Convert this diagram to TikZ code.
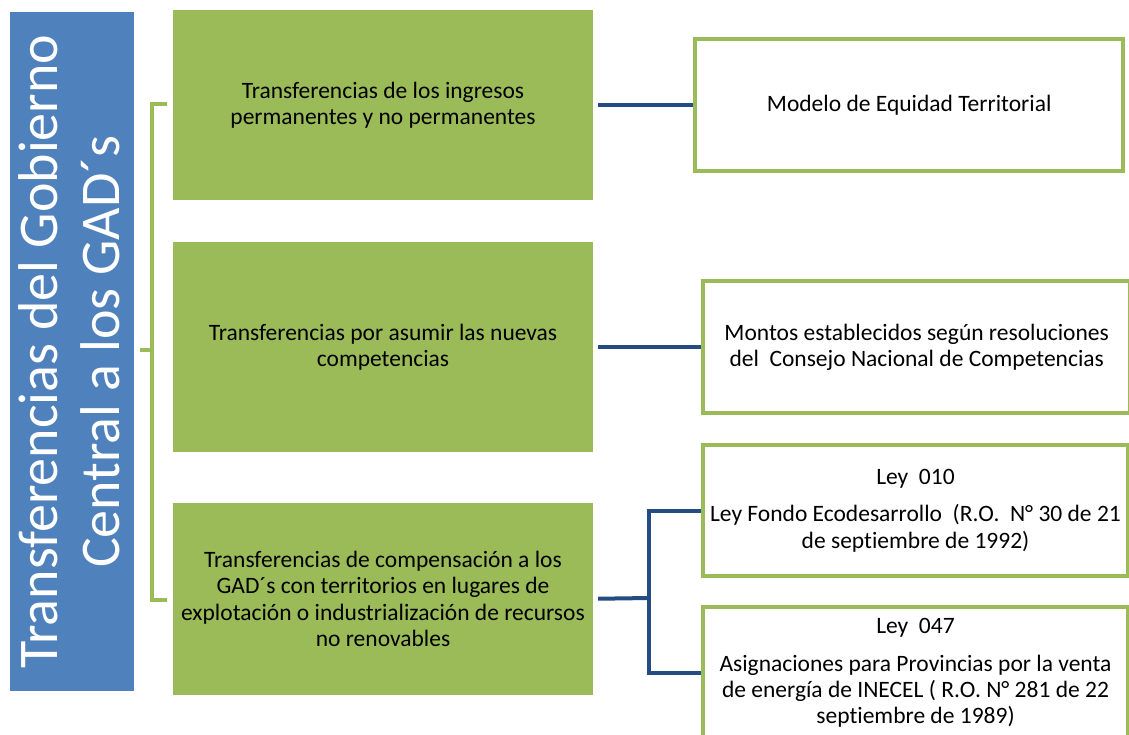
\documentclass[tikz,border=0pt]{standalone}
\usepackage{fontspec}
\setmainfont{Carlito}[Ligatures=NoCommon]
\usetikzlibrary{positioning}
\definecolor{grn}{RGB}{155,187,89}
\definecolor{blu}{RGB}{79,129,189}
\definecolor{dblu}{RGB}{36,76,128}

\begin{document}
\begin{tikzpicture}[x=1pt, y=-1pt,
                title/.style={rectangle, fill=blu, minimum width=124pt, minimum height=679pt, inner sep=0pt},
                titletext/.style={rotate=90, align=center, text=white, inner sep=0pt, font=\fontsize{56}{62}\selectfont},
                grnbox/.style={rectangle, fill=grn, minimum width=420pt, inner sep=0pt, align=center, font=\fontsize{23.5}{26.3}\selectfont},
                outbox/.style={rectangle, draw=grn, line width=4pt, fill=white, minimum width=425pt, minimum height=132pt, inner sep=0pt, align=center, font=\fontsize{23.5}{26.3}\selectfont},
                link/.style={line width=4pt, dblu},
                brace/.style={line width=4pt, grn}
            ]
            \useasboundingbox (0,0) rectangle (1129,734);
            \node[title] (gob) at (72,351.5) {};
            \node[titletext] (gobtext) at ([xshift=-3pt]gob.center) {Transferencias del Gobierno\\Central a los GAD´s};

            \node[grnbox, minimum height=190pt] (perm) at (383,105) {Transferencias de los ingresos\\permanentes y no permanentes};
            \node[grnbox, minimum height=210pt, below=42pt of perm] (comp) {Transferencias por asumir las nuevas\\competencias};
            \node[grnbox, minimum height=192pt, below=50pt of comp] (recur) {Transferencias de compensación a los\\GAD´s con territorios en lugares de\\explotación o industrialización de recursos\\no renovables};

            \node[outbox, minimum width=428pt, right=100pt of perm] (equidad) {Modelo de Equidad Territorial};
            \node[outbox, minimum width=427pt, right=108pt of comp] (montos) {Montos establecidos según resoluciones\\del\ \ Consejo Nacional de Competencias};
            \node[outbox, minimum height=131pt] (ley10) at (915.5,510.5) {Ley\ \ 010\\[11pt]Ley Fondo Ecodesarrollo\ \ (R.O.\ \ N° 30 de 21\\de septiembre de 1992)};
            \node[outbox] (ley47) at (915.5,673) {Ley\ \ 047\\[11pt]Asignaciones para Provincias por la venta\\de energía de INECEL ( R.O. N° 281 de 22\\septiembre de 1989)};

            % bracket
            \coordinate (btop) at (152,104);
            \coordinate (bbot) at (152,600);
            \coordinate (bmid) at (152,350);
            \draw[brace] ([xshift=15pt]btop) -- (btop) -- (bbot) -- ([xshift=15pt]bbot);
            \draw[brace] ([xshift=-12pt]bmid) -- (bmid);

            \draw[link, shorten <=5pt] (perm.east) -- (equidad.west);
            \draw[link, shorten <=5pt] (comp.east) -- (montos.west);
            \coordinate (fork) at (649,598);
            \draw[link, shorten <=5pt] (recur.east) -- (fork);
            \draw[link] (ley10.west) -| (fork) |- (ley47.west);
        \end{tikzpicture}
\end{document}
